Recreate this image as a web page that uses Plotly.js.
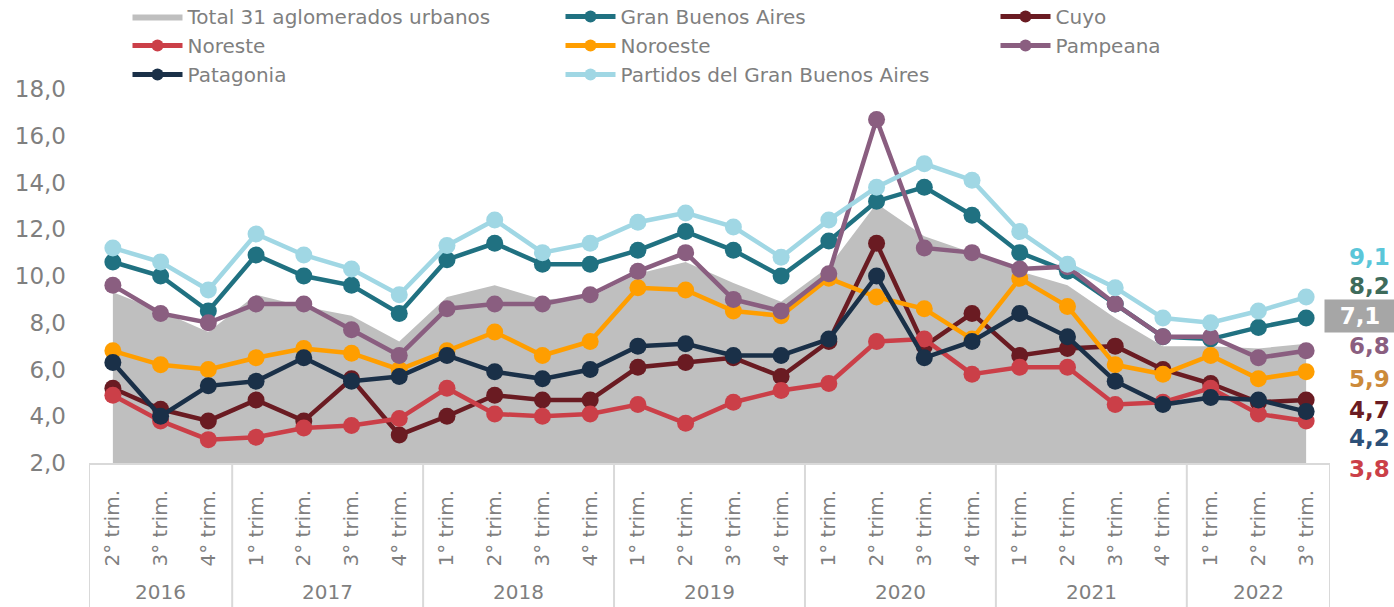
<!DOCTYPE html>
<html>
<head>
<meta charset="utf-8">
<script src="https://cdn.plot.ly/plotly-3.0.1.min.js"></script>
<style>
  html, body { margin: 0; padding: 0; background: #ffffff; }
  #chart { width: 1394px; height: 607px; }
</style>
</head>
<body>
<div id="chart"></div>
<script>
// ---- Data ----
const years = ['2016','2016','2016',
  '2017','2017','2017','2017',
  '2018','2018','2018','2018',
  '2019','2019','2019','2019',
  '2020','2020','2020','2020',
  '2021','2021','2021','2021',
  '2022','2022','2022'];
const quarters = ['2° trim.','3° trim.','4° trim.',
  '1° trim.','2° trim.','3° trim.','4° trim.',
  '1° trim.','2° trim.','3° trim.','4° trim.',
  '1° trim.','2° trim.','3° trim.','4° trim.',
  '1° trim.','2° trim.','3° trim.','4° trim.',
  '1° trim.','2° trim.','3° trim.','4° trim.',
  '1° trim.','2° trim.','3° trim.'];

const total31       = [9.3, 8.5, 7.6, 9.2, 8.7, 8.3, 7.2, 9.1, 9.6, 9.0, 9.1, 10.1, 10.6, 9.7, 8.9, 10.4, 13.1, 11.7, 11.0, 10.2, 9.6, 8.2, 7.0, 7.0, 6.9, 7.1];
const granBsAs      = [10.6, 10.0, 8.5, 10.9, 10.0, 9.6, 8.4, 10.7, 11.4, 10.5, 10.5, 11.1, 11.9, 11.1, 10.0, 11.5, 13.2, 13.8, 12.6, 11.0, 10.2, 8.8, 7.4, 7.3, 7.8, 8.2];
const cuyo          = [5.2, 4.3, 3.8, 4.7, 3.8, 5.6, 3.2, 4.0, 4.9, 4.7, 4.7, 6.1, 6.3, 6.5, 5.7, 7.2, 11.4, 7.0, 8.4, 6.6, 6.9, 7.0, 6.0, 5.4, 4.6, 4.7];
const noreste       = [4.9, 3.8, 3.0, 3.1, 3.5, 3.6, 3.9, 5.2, 4.1, 4.0, 4.1, 4.5, 3.7, 4.6, 5.1, 5.4, 7.2, 7.3, 5.8, 6.1, 6.1, 4.5, 4.6, 5.2, 4.1, 3.8];
const noroeste      = [6.8, 6.2, 6.0, 6.5, 6.9, 6.7, 6.0, 6.8, 7.6, 6.6, 7.2, 9.5, 9.4, 8.5, 8.3, 9.9, 9.1, 8.6, 7.3, 9.9, 8.7, 6.2, 5.8, 6.6, 5.6, 5.9];
const pampeana      = [9.6, 8.4, 8.0, 8.8, 8.8, 7.7, 6.6, 8.6, 8.8, 8.8, 9.2, 10.2, 11.0, 9.0, 8.5, 10.1, 16.7, 11.2, 11.0, 10.3, 10.4, 8.8, 7.4, 7.4, 6.5, 6.8];
const patagonia     = [6.3, 4.0, 5.3, 5.5, 6.5, 5.5, 5.7, 6.6, 5.9, 5.6, 6.0, 7.0, 7.1, 6.6, 6.6, 7.3, 10.0, 6.5, 7.2, 8.4, 7.4, 5.5, 4.5, 4.8, 4.7, 4.2];
const partidosGBA   = [11.2, 10.6, 9.4, 11.8, 10.9, 10.3, 9.2, 11.3, 12.4, 11.0, 11.4, 12.3, 12.7, 12.1, 10.8, 12.4, 13.8, 14.8, 14.1, 11.9, 10.5, 9.5, 8.2, 8.0, 8.5, 9.1];

const yTicks = [2, 4, 6, 8, 10, 12, 14, 16, 18];

// ---- Derived positions (category index) ----
const idx = quarters.map((_, i) => i);
const yearGroups = [];
years.forEach((y, i) => {
  const g = yearGroups[yearGroups.length - 1];
  if (g && g.year === y) { g.end = i; } else { yearGroups.push({ year: y, start: i, end: i }); }
});

// ---- Styles ----
const FONT = 'DejaVu Sans, Verdana, sans-serif';
const AXIS_GRAY = '#D9D9D9';

function lineTrace(name, y, color, legend) {
  return {
    type: 'scatter', mode: 'lines+markers', name: name, x: idx, y: y,
    line: { color: color, width: 4.5 },
    marker: { color: color, size: 17 },
    cliponaxis: false,
    legend: legend
  };
}

const traces = [
  { type: 'scatter', mode: 'lines', name: 'Total 31 aglomerados urbanos', x: idx, y: total31,
    fill: 'tozeroy', fillcolor: '#BFBFBF', line: { color: '#BFBFBF', width: 0 }, legend: 'legend' },
  lineTrace('Gran Buenos Aires', granBsAs, '#207181', 'legend2'),
  lineTrace('Cuyo', cuyo, '#6A1B22', 'legend3'),
  lineTrace('Noreste', noreste, '#CB3F48', 'legend'),
  lineTrace('Noroeste', noroeste, '#FF9E00', 'legend2'),
  lineTrace('Pampeana', pampeana, '#8A5E80', 'legend3'),
  lineTrace('Patagonia', patagonia, '#1A3048', 'legend'),
  lineTrace('Partidos del Gran Buenos Aires', partidosGBA, '#A0D7E4', 'legend2')
];

const plotL = 89, plotR = 1330, plotT = 89, plotB = 463;
const pxX = px => (px - plotL) / (plotR - plotL);
const pxY = py => (plotB - py) / (plotB - plotT);

// right-side end labels (value taken from last point of each series)
const fmt = v => v.toFixed(1).replace('.', ',');
const endLabels = [
  { v: partidosGBA, color: '#5BC6D9', py: 257 },
  { v: granBsAs,    color: '#3E6B5B', py: 286 },
  { v: total31,     color: '#FFFFFF', py: 316, box: '#A6A6A6' },
  { v: pampeana,    color: '#8A5E80', py: 346 },
  { v: noroeste,    color: '#CC8A3A', py: 379 },
  { v: cuyo,        color: '#6A1B22', py: 410 },
  { v: patagonia,   color: '#2D5078', py: 438 },
  { v: noreste,     color: '#CB3F48', py: 469 }
];
const annotations = endLabels.map(l => {
  const a = {
    xref: 'paper', yref: 'paper',
    x: pxX(1347), y: pxY(l.py),
    xanchor: 'left', yanchor: 'middle',
    text: '<b>' + fmt(l.v[l.v.length - 1]) + '</b>',
    showarrow: false,
    font: { family: FONT, size: 23, color: l.color }
  };
  if (l.box) {
    a.x = pxX(1324);
    a.bgcolor = l.box;
    a.width = 66; a.height = 28; a.borderpad = 2;
    a.align = 'center';
  }
  return a;
});
// year labels under each group
yearGroups.forEach(g => {
  annotations.push({
    xref: 'x', yref: 'paper', x: (g.start + g.end) / 2, y: pxY(592),
    xanchor: 'center', yanchor: 'middle', showarrow: false,
    text: g.year, font: { family: FONT, size: 20, color: '#7F7F7F' }
  });
});

// group dividers
const shapes = [];
const bounds = yearGroups.map(g => g.start - 0.5).concat([idx.length - 0.5]);
bounds.forEach(b => {
  shapes.push({
    type: 'line', xref: 'x', yref: 'paper', x0: b, x1: b, y0: 0, y1: pxY(607),
    line: { color: AXIS_GRAY, width: 2 }, layer: 'above'
  });
});

function legendAt(px) {
  return {
    orientation: 'v', x: pxX(px), xanchor: 'left', y: pxY(-3), yanchor: 'top',
    font: { family: FONT, size: 20, color: '#7F7F7F' },
    itemwidth: 50, itemsizing: 'constant',
    traceorder: 'normal', bgcolor: 'rgba(0,0,0,0)', borderwidth: 0
  };
}

const layout = {
  width: 1394, height: 607,
  margin: { l: plotL, r: 1394 - plotR, t: plotT, b: 607 - plotB, autoexpand: false },
  paper_bgcolor: '#ffffff', plot_bgcolor: '#ffffff',
  separators: ',.',
  font: { family: FONT, color: '#7F7F7F' },
  showlegend: true,
  legend: legendAt(127.5),
  legend2: legendAt(560.5),
  legend3: legendAt(995.5),
  xaxis: {
    type: 'linear',
    range: [-0.5, idx.length - 0.5],
    tickmode: 'array', tickvals: idx, ticktext: quarters,
    showgrid: false, zeroline: false,
    showline: true, linecolor: AXIS_GRAY, linewidth: 2,
    tickangle: -90, ticks: '',
    ticklabelstandoff: 17,
    tickfont: { family: FONT, size: 20, color: '#7F7F7F' }
  },
  yaxis: {
    range: [2, 18], tickvals: yTicks, tickformat: '.1f',
    showgrid: false, zeroline: false, showline: false, ticks: '',
    ticklabelstandoff: 22,
    tickfont: { family: FONT, size: 23, color: '#7F7F7F' }
  },
  shapes: shapes,
  annotations: annotations
};

Plotly.newPlot('chart', traces, layout, { displayModeBar: false, staticPlot: true });
</script>
</body>
</html>
